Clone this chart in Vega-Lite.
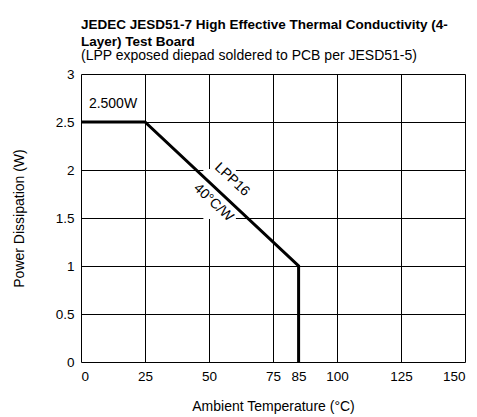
{
  "$schema": "https://vega.github.io/schema/vega-lite/v6.json",
  "width": 384,
  "height": 288,
  "autosize": "none",
  "padding": {"left": 81, "top": 74, "right": 12, "bottom": 55},
  "background": "white",
  "config": {
    "font": "Liberation Sans",
    "view": {"stroke": null}
  },
  "title": {
    "text": ["JEDEC JESD51-7 High Effective Thermal Conductivity (4-", "Layer) Test Board"],
    "subtitle": "(LPP exposed diepad soldered to PCB per JESD51-5)",
    "anchor": "start",
    "frame": "group",
    "font": "Liberation Sans",
    "fontSize": 13.5,
    "fontWeight": "bold",
    "lineHeight": 17,
    "color": "black",
    "subtitleFont": "Liberation Sans",
    "subtitleFontSize": 14,
    "subtitleColor": "black",
    "subtitlePadding": 1,
    "offset": 4
  },
  "datasets": {
    "curve": [
      {"temp": 0, "power": 2.5},
      {"temp": 25, "power": 2.5},
      {"temp": 85, "power": 1.0},
      {"temp": 85, "power": 0}
    ],
    "mask": [
      {"x1": 47.8, "x2": 60.5, "y1": 1.49, "y2": 2.01}
    ],
    "flat": [
      {"temp": 12.5, "power": 2.69, "label": "2.500W"}
    ],
    "slanted": [
      {"temp": 59, "power": 1.9, "label": "LPP16"},
      {"temp": 51.7, "power": 1.66, "label": "40°C/W"}
    ]
  },
  "layer": [
    {
      "data": {"name": "mask"},
      "mark": {"type": "rect", "color": "white"},
      "encoding": {
        "x": {
          "field": "x1", "type": "quantitative",
          "scale": {"domain": [0, 150], "nice": false},
          "axis": {
            "values": [0, 25, 50, 75, 85, 100, 125, 150],
            "title": "Ambient Temperature (°C)",
            "domain": false,
            "ticks": false,
            "grid": true,
            "gridColor": "black",
            "gridWidth": 1,
            "gridOpacity": {"condition": {"test": "datum.value == 85", "value": 0}, "value": 1},
            "labelFontSize": 13.5,
            "labelColor": "black",
            "labelPadding": 7,
            "titleFontSize": 14,
            "titleFontWeight": "normal",
            "titleColor": "black",
            "titlePadding": 17
          }
        },
        "x2": {"field": "x2"},
        "y": {
          "field": "y1", "type": "quantitative",
          "scale": {"domain": [0, 3], "nice": false},
          "axis": {
            "values": [0, 0.5, 1, 1.5, 2, 2.5, 3],
            "format": "~g",
            "title": "Power Dissipation (W)",
            "domain": false,
            "ticks": false,
            "grid": true,
            "gridColor": "black",
            "gridWidth": 1,
            "labelFontSize": 13.5,
            "labelColor": "black",
            "labelPadding": 7,
            "titleFontSize": 14,
            "titleFontWeight": "normal",
            "titleColor": "black",
            "titlePadding": 29
          }
        },
        "y2": {"field": "y2"}
      }
    },
    {
      "data": {"name": "curve"},
      "mark": {"type": "line", "color": "black", "strokeWidth": 3},
      "encoding": {
        "x": {"field": "temp", "type": "quantitative"},
        "y": {"field": "power", "type": "quantitative"},
        "order": {"value": 0}
      }
    },
    {
      "data": {"name": "flat"},
      "mark": {"type": "text", "fontSize": 14, "color": "black", "font": "Liberation Sans"},
      "encoding": {
        "x": {"field": "temp", "type": "quantitative"},
        "y": {"field": "power", "type": "quantitative"},
        "text": {"field": "label"}
      }
    },
    {
      "data": {"name": "slanted"},
      "mark": {"type": "text", "fontSize": 14, "color": "black", "angle": 43, "font": "Liberation Sans"},
      "encoding": {
        "x": {"field": "temp", "type": "quantitative"},
        "y": {"field": "power", "type": "quantitative"},
        "text": {"field": "label"}
      }
    }
  ]
}
